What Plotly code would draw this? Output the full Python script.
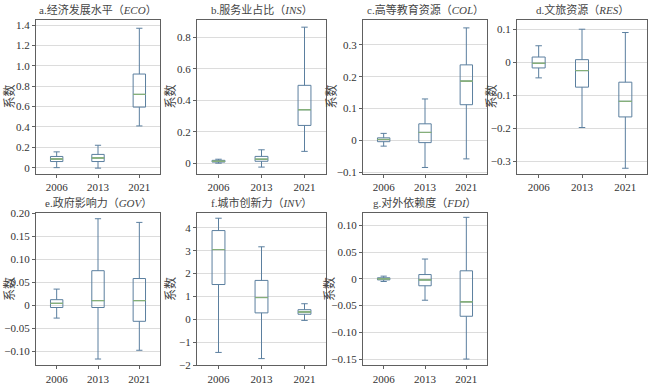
import plotly.graph_objects as go

years = ["2006", "2013", "2021"]

titles = ["a.经济发展水平（<i>ECO</i>）", "b.服务业占比（<i>INS</i>）", "c.高等教育资源（<i>COL</i>）",
          "d.文旅资源（<i>RES</i>）", "e.政府影响力（<i>GOV</i>）", "f.城市创新力（<i>INV</i>）",
          "g.对外依赖度（<i>FDI</i>）"]
ytitle = "系数"

# per panel: [lowerfence, q1, median, q3, upperfence] for 2006, 2013, 2021
eco = [[0.0, 0.06, 0.085, 0.11, 0.155], [-0.005, 0.06, 0.095, 0.13, 0.22], [0.41, 0.595, 0.72, 0.92, 1.37]]
ins = [[0.0, 0.007, 0.012, 0.018, 0.025], [-0.025, 0.012, 0.025, 0.043, 0.085], [0.075, 0.24, 0.34, 0.495, 0.865]]
col = [[-0.018, -0.004, 0.003, 0.008, 0.022], [-0.085, -0.007, 0.025, 0.052, 0.13], [-0.058, 0.112, 0.186, 0.237, 0.353]]
res = [[-0.047, -0.017, -0.003, 0.016, 0.05], [-0.197, -0.075, -0.025, 0.008, 0.1], [-0.32, -0.165, -0.118, -0.06, 0.09]]
gov = [[-0.028, -0.005, 0.004, 0.012, 0.035], [-0.117, -0.005, 0.01, 0.075, 0.188], [-0.098, -0.035, 0.01, 0.058, 0.18]]
inv = [[-1.45, 1.52, 3.05, 3.88, 4.42], [-1.72, 0.28, 0.95, 1.7, 3.17], [-0.05, 0.22, 0.32, 0.42, 0.68]]
fdi = [[-0.005, -0.002, 0.0, 0.002, 0.005], [-0.04, -0.013, -0.002, 0.008, 0.037], [-0.15, -0.07, -0.043, 0.015, 0.115]]
panels = [eco, ins, col, res, gov, inv, fdi]

yranges = [[-0.058, 1.455], [-0.066, 0.913], [-0.104, 0.379], [-0.336, 0.129],
           [-0.131, 0.2015], [-2.02, 4.67], [-0.162, 0.124]]
tickvals = [[0, 0.2, 0.4, 0.6, 0.8, 1.0, 1.2, 1.4],
            [0, 0.2, 0.4, 0.6, 0.8],
            [-0.1, 0, 0.1, 0.2, 0.3],
            [-0.3, -0.2, -0.1, 0, 0.1],
            [-0.10, -0.05, 0, 0.05, 0.10, 0.15, 0.20],
            [-2, -1, 0, 1, 2, 3, 4],
            [-0.15, -0.10, -0.05, 0, 0.05, 0.10]]
ticktexts = [["0", "0.2", "0.4", "0.6", "0.8", "1.0", "1.2", "1.4"],
             ["0", "0.2", "0.4", "0.6", "0.8"],
             ["−0.1", "0", "0.1", "0.2", "0.3"],
             ["−0.3", "−0.2", "−0.1", "0", "0.1"],
             ["−0.10", "−0.05", "0", "0.05", "0.10", "0.15", "0.20"],
             ["−2", "−1", "0", "1", "2", "3", "4"],
             ["−0.15", "−0.10", "−0.05", "0", "0.05", "0.10"]]

W, H = 650, 388
xpix = [(36, 160), (197, 326), (363, 487), (517, 647), (36, 160), (197, 326), (363, 487)]
ypix = [(15, 173)] * 4 + [(213, 370)] * 3
ytitle_x = [10, 171, 332, 492, 10, 171, 330]

FONT = "Liberation Serif, Noto Sans CJK SC, serif"
MED = "#86b07a"
FRAME = "#606060"

fig = go.Figure()
layout = dict(width=W, height=H, margin=dict(l=0, r=0, t=0, b=0),
              paper_bgcolor="white", plot_bgcolor="white", showlegend=False,
              font=dict(family=FONT, size=11, color="#333333"), annotations=[])

for i, data in enumerate(panels):
    n = "" if i == 0 else str(i + 1)
    xa, ya = "x" + n, "y" + n
    lf = [d[0] for d in data]
    q1 = [d[1] for d in data]
    md = [d[2] for d in data]
    q3 = [d[3] for d in data]
    uf = [d[4] for d in data]
    fig.add_trace(go.Box(x=years, q1=q1, median=md, q3=q3, lowerfence=lf, upperfence=uf,
                         xaxis=xa, yaxis=ya, width=0.3, whiskerwidth=0.5,
                         line=dict(color="#5b7f9f", width=1), fillcolor="rgba(0,0,0,0)",
                         hoverinfo="skip"))
    fig.add_trace(go.Box(x=years, q1=md, median=md, q3=md, lowerfence=md, upperfence=md,
                         xaxis=xa, yaxis=ya, width=0.3, whiskerwidth=0,
                         line=dict(color=MED, width=1), fillcolor="rgba(0,0,0,0)",
                         hoverinfo="skip"))
    x0, x1 = xpix[i]
    y0, y1 = ypix[i]
    layout["xaxis" + n] = dict(domain=[x0 / W, x1 / W], anchor=ya, type="category",
                               range=[-0.5, 2.5], showline=True, mirror=True, linecolor=FRAME,
                               linewidth=1, ticks="outside", ticklen=3, tickcolor=FRAME,
                               showgrid=False, tickfont=dict(size=11, color="#333"))
    layout["yaxis" + n] = dict(domain=[1 - y1 / H, 1 - y0 / H], anchor=xa, range=yranges[i],
                               tickvals=tickvals[i], ticktext=ticktexts[i],
                               showline=True, mirror=True, linecolor=FRAME, linewidth=1,
                               ticks="outside", ticklen=3, tickcolor=FRAME,
                               showgrid=True, gridcolor="#dcdcdc", gridwidth=1,
                               zeroline=False, tickfont=dict(size=11, color="#333"))
    layout["annotations"].append(dict(text=titles[i], xref="paper", yref="paper",
                                      x=(x0 + x1) / 2 / W, y=1 - (y0 - 2) / H,
                                      xanchor="center", yanchor="bottom", showarrow=False,
                                      font=dict(size=11, color="#444")))
    layout["annotations"].append(dict(text=ytitle, xref="paper", yref="paper",
                                      x=ytitle_x[i] / W, y=1 - (y0 + y1) / 2 / H,
                                      xanchor="center", yanchor="middle", showarrow=False,
                                      textangle=-90, font=dict(size=12, color="#444")))

fig.update_layout(**layout)
fig.write_html("out.html", config={"displayModeBar": False},
               post_script="document.body.style.margin='0';document.body.style.overflow='hidden';")
